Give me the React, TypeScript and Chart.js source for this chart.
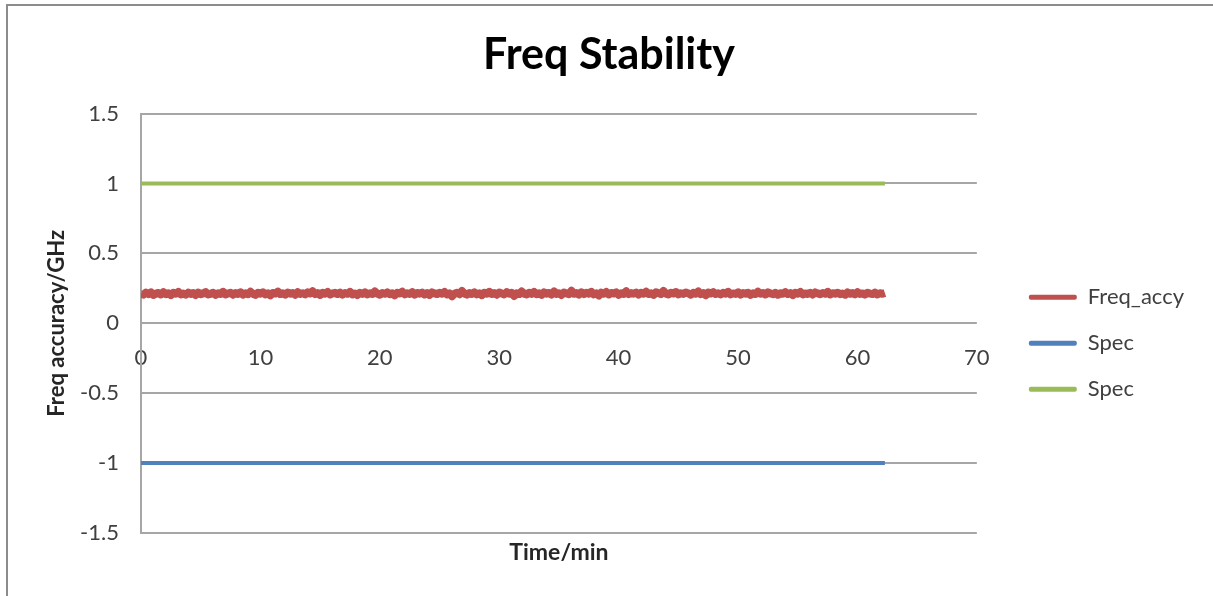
import React, { useEffect, useRef } from "react";
import { Chart, registerables } from "chart.js";

Chart.register(...registerables);

const chartTitle = "Freq Stability";
const xAxisTitle = "Time/min";
const yAxisTitle = "Freq accuracy/GHz";
const seriesNames = ["Freq_accy", "Spec", "Spec"];
const seriesColors = ["#C0504D", "#4F81BD", "#9BBB59"];

const xTicksMin = 0;
const xTicksMax = 70;
const xStep = 10;
const yMin = -1.5;
const yMax = 1.5;
const yStep = 0.5;

const freqStartMin = 0;
const freqEndMin = 62.3;
const freqAccy = [
  0.214, 0.205, 0.219, 0.209, 0.221, 0.203, 0.212, 0.217, 0.206, 0.222, 0.208, 0.215, 0.201, 0.218, 0.211, 0.224, 0.207, 0.213, 0.204, 0.219,
  0.21, 0.216, 0.202, 0.22, 0.208, 0.214, 0.223, 0.206, 0.211, 0.218, 0.203, 0.215, 0.209, 0.225, 0.207, 0.213, 0.219, 0.204, 0.216, 0.21,
  0.222, 0.205, 0.214, 0.208, 0.226, 0.211, 0.203, 0.218, 0.212, 0.221, 0.206, 0.215, 0.2, 0.217, 0.213, 0.227, 0.209, 0.214, 0.205, 0.22,
  0.211, 0.217, 0.204, 0.223, 0.21, 0.215, 0.207, 0.221, 0.213, 0.229, 0.208, 0.216, 0.203, 0.219, 0.212, 0.224, 0.206, 0.214, 0.218, 0.209,
  0.22, 0.205, 0.216, 0.211, 0.225, 0.207, 0.213, 0.202, 0.218, 0.21, 0.222, 0.206, 0.215, 0.209, 0.228, 0.212, 0.204, 0.217, 0.211, 0.221,
  0.208, 0.214, 0.2, 0.219, 0.213, 0.226, 0.207, 0.215, 0.21, 0.223, 0.205, 0.217, 0.212, 0.22, 0.206, 0.216, 0.203, 0.221, 0.214, 0.209,
  0.218, 0.211, 0.224, 0.206, 0.215, 0.193, 0.212, 0.219, 0.208, 0.231, 0.213, 0.205, 0.217, 0.21, 0.222, 0.207, 0.214, 0.201, 0.219, 0.212,
  0.225, 0.209, 0.216, 0.204, 0.22, 0.213, 0.207, 0.223, 0.211, 0.218, 0.196, 0.215, 0.209, 0.227, 0.212, 0.206, 0.219, 0.21, 0.224, 0.208,
  0.214, 0.203, 0.221, 0.212, 0.217, 0.206, 0.228, 0.21, 0.215, 0.202, 0.22, 0.213, 0.208, 0.233, 0.211, 0.216, 0.205, 0.222, 0.209, 0.218,
  0.212, 0.225, 0.207, 0.214, 0.199, 0.219, 0.211, 0.224, 0.206, 0.217, 0.213, 0.221, 0.204, 0.215, 0.21, 0.229, 0.208, 0.216, 0.212, 0.22,
  0.205, 0.218, 0.211, 0.226, 0.209, 0.214, 0.203, 0.222, 0.216, 0.208, 0.232, 0.212, 0.206, 0.219, 0.213, 0.224, 0.207, 0.215, 0.21, 0.221,
  0.214, 0.204, 0.219, 0.211, 0.227, 0.208, 0.216, 0.201, 0.22, 0.213, 0.223, 0.209, 0.215, 0.206, 0.218, 0.212, 0.225, 0.207, 0.214, 0.21,
  0.222, 0.205, 0.216, 0.212, 0.219, 0.203, 0.214, 0.209, 0.226, 0.211, 0.217, 0.206, 0.221, 0.213, 0.208, 0.218, 0.204, 0.215, 0.211, 0.223,
  0.209, 0.216, 0.202, 0.219, 0.212, 0.224, 0.207, 0.213, 0.21, 0.218, 0.205, 0.221, 0.214, 0.208, 0.217, 0.211, 0.225, 0.206, 0.215, 0.212,
  0.219, 0.208, 0.213, 0.204, 0.221, 0.211, 0.216, 0.207, 0.223, 0.21, 0.214, 0.205, 0.218, 0.212, 0.209, 0.22, 0.206, 0.215, 0.211, 0.217,
];

const specTimes = [0, 62.3];
const specLower = [-1, -1];
const specUpper = [1, 1];

const FONT = "Lato, 'Open Sans', sans-serif";

export default function App() {
  const canvasRef = useRef<HTMLCanvasElement | null>(null);

  useEffect(() => {
    const canvas = canvasRef.current;
    if (!canvas) return;
    const n = freqAccy.length;
    const freqData = freqAccy.map((v, i) => ({
      x: freqStartMin + (i * (freqEndMin - freqStartMin)) / (n - 1),
      y: v,
    }));
    const lowData = specTimes.map((t, i) => ({ x: t, y: specLower[i] }));
    const upData = specTimes.map((t, i) => ({ x: t, y: specUpper[i] }));

    const chart = new Chart(canvas, {
      type: "line",
      data: {
        datasets: [
          {
            label: seriesNames[0],
            data: freqData,
            borderColor: seriesColors[0],
            backgroundColor: seriesColors[0],
            borderWidth: 8,
            borderJoinStyle: "round",
            borderCapStyle: "butt",
            pointRadius: 0,
            tension: 0,
          },
          {
            label: seriesNames[1],
            data: lowData,
            borderColor: seriesColors[1],
            backgroundColor: seriesColors[1],
            borderWidth: 4,
            borderCapStyle: "butt",
            pointRadius: 0,
          },
          {
            label: seriesNames[2],
            data: upData,
            borderColor: seriesColors[2],
            backgroundColor: seriesColors[2],
            borderWidth: 4,
            borderCapStyle: "butt",
            pointRadius: 0,
          },
        ],
      },
      options: {
        animation: false,
        responsive: false,
        maintainAspectRatio: false,
        layout: { padding: { left: 24, top: 0, right: 19, bottom: 0 } },
        plugins: {
          tooltip: { enabled: false },
          title: {
            display: true,
            text: chartTitle,
            color: "#000000",
            font: { family: FONT, size: 43, weight: "bold" },
            padding: { top: 29, bottom: 33 },
          },
          legend: {
            position: "right",
            fullSize: false,
            title: {
              display: true,
              text: "",
              font: { size: 10 },
              padding: { top: 28, bottom: 0 },
            },
            labels: {
              boxWidth: 48,
              boxHeight: 5,
              padding: 24,
              color: "#404040",
              font: { family: FONT, size: 22 },
              generateLabels: (c: any) =>
                Chart.defaults.plugins.legend.labels
                  .generateLabels(c)
                  .map((l: any) => ({ ...l, lineWidth: 0, fillStyle: l.strokeStyle, borderRadius: 2 })),
            },
          },
        },
        scales: {
          x: {
            type: "linear",
            position: { y: 0 } as any,
            min: xTicksMin,
            max: xTicksMax,
            grid: { display: false, drawTicks: false },
            border: { display: false },
            ticks: {
              stepSize: xStep,
              padding: 21,
              color: "#404040",
              font: { family: FONT, size: 22 },
              maxRotation: 0,
            },
          },
          x2: {
            type: "linear",
            position: "bottom",
            min: xTicksMin,
            max: xTicksMax,
            grid: { display: false, drawTicks: false },
            border: { display: false },
            ticks: { display: false },
            title: {
              display: true,
              text: xAxisTitle,
              color: "#262626",
              font: { family: FONT, size: 23, weight: "bold" },
              padding: { top: 0, bottom: 30 },
            },
            afterFit: (s: any) => {
              s.height = 596 - 533;
            },
          },
          y: {
            type: "linear",
            position: "left",
            min: yMin,
            max: yMax,
            grid: { color: "#a6a6a6", lineWidth: 2, drawTicks: false },
            border: { display: true, color: "#a6a6a6", width: 2 },
            ticks: {
              stepSize: yStep,
              padding: 22,
              color: "#404040",
              font: { family: FONT, size: 22 },
              callback: (v: any) => String(Math.round(Number(v) * 10) / 10),
            },
            title: {
              display: true,
              text: yAxisTitle,
              color: "#262626",
              font: { family: FONT, size: 22, weight: "bold" },
              padding: { top: 20, bottom: 0 },
            },
            afterFit: (s: any) => {
              s.width = 141 - 24;
            },
          },
          y2: {
            type: "linear",
            position: "right",
            min: yMin,
            max: yMax,
            grid: { display: false, drawTicks: false },
            border: { display: false },
            ticks: { display: false },
            afterFit: (s: any) => {
              s.width = 28;
            },
          },
        },
      },
    });
    return () => chart.destroy();
  }, []);

  return (
    <div style={{ position: "relative", width: 1213, height: 596, background: "#ffffff" }}>
      <style>{`body{margin:0;}`}</style>
      <canvas
        ref={canvasRef}
        width={1213}
        height={596}
        style={{ position: "absolute", left: 0, top: 0, width: 1213, height: 596 }}
      />
      <div
        style={{
          position: "absolute",
          left: 6,
          top: 4,
          right: 0,
          bottom: 0,
          borderTop: "2px solid #8c8c8c",
          borderLeft: "2px solid #8c8c8c",
          pointerEvents: "none",
        }}
      />
    </div>
  );
}
